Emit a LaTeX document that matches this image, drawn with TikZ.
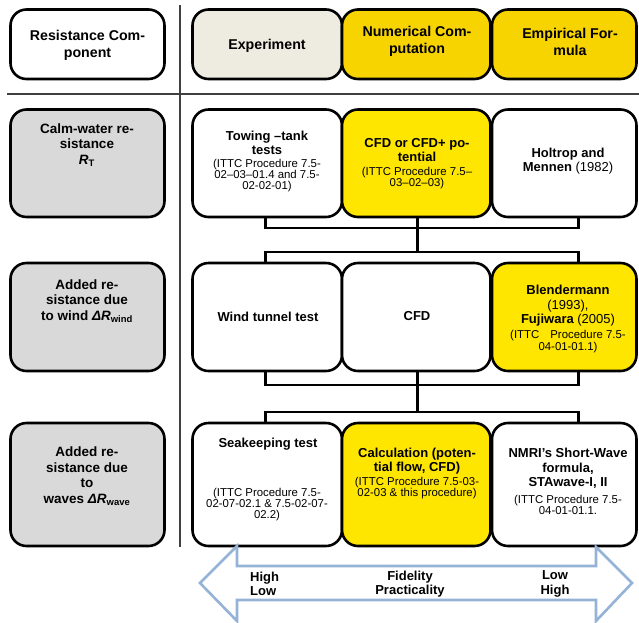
\documentclass[tikz,border=0pt]{standalone}
\usepackage{fontspec}
\setmainfont{Liberation Sans}
\usetikzlibrary{backgrounds}
\definecolor{hdryellow}{HTML}{F7D300}
\definecolor{rowyellow}{HTML}{FFE600}
\definecolor{beige}{HTML}{EEEBE0}
\definecolor{cellgray}{HTML}{D9D9D9}
\definecolor{arrowblue}{HTML}{95B3D7}
\definecolor{sepgray}{HTML}{404040}
\begin{document}
\begin{tikzpicture}[x=1pt,y=-1pt,
  cellbox/.style={draw=black, line width=2.6pt, rounded corners=16pt, rectangle, inner sep=0pt, fill=white},
  hdrtext/.style={font=\bfseries\fontsize{14.2}{17}\selectfont, align=center, inner sep=0pt},
  lefttext/.style={font=\bfseries\fontsize{13.5}{15.5}\selectfont, align=center, inner sep=0pt},
  ttl/.style={font=\bfseries\fontsize{13}{14.6}\selectfont, align=center, inner sep=0pt},
  ref/.style={font=\fontsize{11.4}{11}\selectfont, align=center, inner sep=0pt},
  conn/.style={draw=black, line width=2.6pt},
  sepline/.style={draw=sepgray, line width=1.4pt},
  fidarrow/.style={draw=arrowblue, line width=2.6pt, fill=white, line join=miter}]
\useasboundingbox (0,0) rectangle (639,622);
\fill[white] (0,0) rectangle (639,622);

% separators
\draw[sepline] (7,94) -- (639,94);
\draw[sepline] (180,5) -- (180,547);

% header row
\node[cellbox, minimum width=154pt, minimum height=69.5pt] (hres) at (87.5,44.25) {};
\node[cellbox, fill=beige, minimum width=149.5pt, minimum height=69.5pt] (hexp) at (267.25,44.25) {};
\node[cellbox, fill=hdryellow, minimum width=148.5pt, minimum height=69.5pt] (hnum) at (416.25,44.25) {};
\node[cellbox, fill=hdryellow, minimum width=144.5pt, minimum height=69.5pt] (hemp) at (564.25,44.25) {};

% row 1
\node[cellbox, fill=cellgray, minimum width=154pt, minimum height=107.5pt] (lcalm) at (87.5,163.25) {};
\node[cellbox, minimum width=149.5pt, minimum height=107.5pt] (towing) at (267.25,163.25) {};
\node[cellbox, fill=rowyellow, minimum width=148.5pt, minimum height=107.5pt] (cfdone) at (416.25,163.25) {};
\node[cellbox, minimum width=144.5pt, minimum height=107.5pt] (holtrop) at (564.25,163.25) {};

% row 2
\node[cellbox, fill=cellgray, minimum width=154pt, minimum height=108pt] (lwind) at (87.5,317) {};
\node[cellbox, minimum width=149.5pt, minimum height=108pt] (windtunnel) at (267.25,317) {};
\node[cellbox, minimum width=148.5pt, minimum height=108pt] (cfdtwo) at (416.25,317) {};
\node[cellbox, fill=rowyellow, minimum width=144.5pt, minimum height=108pt] (blend) at (564.25,317) {};

% row 3
\node[cellbox, fill=cellgray, minimum width=154pt, minimum height=123pt] (lwave) at (87.5,484.5) {};
\node[cellbox, minimum width=149.5pt, minimum height=123pt] (seakeep) at (267.25,484.5) {};
\node[cellbox, fill=rowyellow, minimum width=148.5pt, minimum height=123pt] (calc) at (416.25,484.5) {};
\node[cellbox, minimum width=144.5pt, minimum height=123pt] (nmri) at (564.25,484.5) {};

% square yellow backgrounds
\begin{scope}[on background layer]
  \fill[hdryellow] (hnum.south west) rectangle (hnum.north east);
  \fill[rowyellow] (cfdone.south west) rectangle (cfdone.north east);
  \fill[rowyellow] (blend.south west) rectangle (blend.north east);
  \fill[rowyellow] (calc.south west) rectangle (calc.north east);
\end{scope}

% connectors
\coordinate (bA) at (417.7,228);
\coordinate (bB) at (417.7,252);
\coordinate (bC) at (417.7,385);
\coordinate (bD) at (417.7,412);
\draw[conn] ([xshift=-2pt]towing.south) |- (bA) -| ([xshift=14pt]holtrop.south);
\draw[conn] ([xshift=1.45pt]cfdone.south) -- (bB);
\draw[conn] ([xshift=-2pt]windtunnel.north) |- (bB) -| ([xshift=14pt]blend.north);
\draw[conn] ([xshift=-2pt]windtunnel.south) |- (bC) -| ([xshift=14pt]blend.south);
\draw[conn] ([xshift=1.45pt]cfdtwo.south) -- (bD);
\draw[conn] ([xshift=-2pt]seakeep.north) |- (bD) -| ([xshift=14pt]nmri.north);

% header texts
\node[hdrtext] (thres) at (87.5,45.5) {Resistance Com-\\ponent};
\node[hdrtext] (thexp) at (267,46) {Experiment};
\node[hdrtext] (thnum) at (417,41.5) {Numerical Com-\\putation};
\node[hdrtext] (themp) at (570,41.5) {Empirical For-\\mula};

% left column texts
\node[lefttext] (tcalm) at (87,145) {Calm-water re-\\sistance\\\textit{R}\textsubscript{T}};
\node[lefttext] (twind) at (87,301) {Added re-\\sistance due\\to wind \textit{ΔR}\textsubscript{wind}};
\node[lefttext] (twave) at (87,476) {Added re-\\sistance due\\to\\waves \textit{ΔR}\textsubscript{wave}};

% row 1 texts
\node[ttl, font=\bfseries\fontsize{13}{13.5}\selectfont] (ttow) at (267,143) {Towing –tank\\tests};
\node[ref] (rtow) at (267,176) {(ITTC Procedure 7.5-\\02–03–01.4 and 7.5-\\02-02-01)};
\node[ttl] (tcfdone) at (417,150) {CFD or CFD+ po-\\tential};
\node[ref] (rcfdone) at (417,178.5) {(ITTC Procedure 7.5–\\03–02–03)};
\node[ttl] (thol) at (568,161) {Holtrop and\\Mennen \mdseries(1982)};

% row 2 texts
\node[ttl] (twt) at (268,316.5) {Wind tunnel test};
\node[ttl] (tcfdtwo) at (417,316.5) {CFD};
\node[ttl] (tblend) at (568,306) {Blendermann\\\mdseries(1993),\\Fujiwara \mdseries(2005)};
\node[ref, font=\fontsize{11.4}{12}\selectfont] (rblend) at (568,342) {(ITTC\hspace{11pt}Procedure 7.5-\\04-01-01.1)};

% row 3 texts
\node[ttl] (tsea) at (268,444) {Seakeeping test};
\node[ref] (rsea) at (267,505) {(ITTC Procedure 7.5-\\02-07-02.1 \& 7.5-02-07-\\02.2)};
\node[ttl] (tcalc) at (417,461) {Calculation (poten-\\tial flow, CFD)};
\node[ref] (rcalc) at (417,488) {(ITTC Procedure 7.5-03-\\02-03 \& this procedure)};
\node[ttl] (tnmri) at (568,468.5) {NMRI’s Short-Wave\\formula,\\STAwave-I, II};
\node[ref] (rnmri) at (568,504.5) {(ITTC Procedure 7.5-\\04-01-01.1.};

% fidelity / practicality arrow
\draw[fidarrow] (200,583) -- (237,546) -- (237,566) -- (596,566) -- (596,547) -- (632,583)
  -- (596,621) -- (596,600) -- (237,600) -- (237,621) -- cycle;
\node[ttl, align=left, anchor=west] (aleft) at (250,584) {High\\Low};
\node[ttl] (amid) at (410,584) {Fidelity\\Practicality};
\node[ttl] (aright) at (555,584) {Low\\High};
\end{tikzpicture}
\end{document}
